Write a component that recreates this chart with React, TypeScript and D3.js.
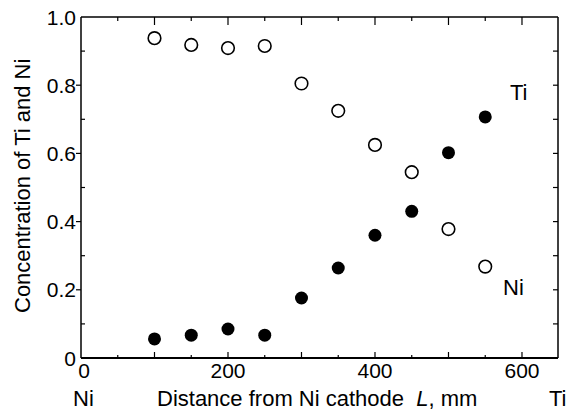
import React from "react";
import * as d3 from "d3";

const distances = [100, 150, 200, 250, 300, 350, 400, 450, 500, 550];
const niValues = [0.938, 0.918, 0.909, 0.915, 0.805, 0.725, 0.625, 0.545, 0.378, 0.268];
const tiValues = [0.056, 0.067, 0.085, 0.067, 0.176, 0.264, 0.36, 0.43, 0.602, 0.707];
const xTickLabels = [0, 200, 400, 600];
const yTickLabels = [0, 0.2, 0.4, 0.6, 0.8, 1.0];

const W = 569;
const H = 415;
const left = 81;
const right = 558;
const top = 17;
const bottom = 358;
const FONT = "Liberation Sans, Arial, sans-serif";

export default function App() {
  const x = d3.scaleLinear().domain([0, 649]).range([left, right]);
  const y = d3.scaleLinear().domain([0, 1]).range([bottom, top]);
  const xMinor = d3.range(50, 650, 50);
  const yMinor = d3.range(1, 10).map((d) => d / 10);

  return (
    <svg
      width={W}
      height={H}
      style={{ position: "absolute", left: 0, top: 0, background: "#fff" }}
      fontFamily={FONT}
    >
      {/* frame */}
      <line x1={left} x2={right} y1={top} y2={top} stroke="#000" strokeWidth={1.5} />
      <line x1={left} x2={left} y1={top} y2={bottom} stroke="#000" strokeWidth={1.5} />
      <line x1={right} x2={right} y1={top} y2={bottom} stroke="#000" strokeWidth={1.5} />
      <line x1={left} x2={right} y1={bottom} y2={bottom} stroke="#000" strokeWidth={2} />

      {/* x ticks top & bottom */}
      {xMinor.map((v) => {
        const major = v % 100 === 0;
        return (
          <g key={"xt" + v}>
            <line x1={x(v)} x2={x(v)} y1={top} y2={top + (major ? 8 : 4)} stroke="#000" strokeWidth={1.2} />
            <line x1={x(v)} x2={x(v)} y1={bottom} y2={bottom - (major ? 6 : 3)} stroke="#000" strokeWidth={1.2} />
          </g>
        );
      })}

      {/* y ticks */}
      {yMinor.map((v) => {
        const major = Math.round(v * 10) % 2 === 0;
        return (
          <g key={"yt" + v}>
            {major ? (
              <line x1={left - 5} x2={left} y1={y(v)} y2={y(v)} stroke="#000" strokeWidth={1.2} />
            ) : (
              <line x1={left} x2={left + 4} y1={y(v)} y2={y(v)} stroke="#000" strokeWidth={1.2} />
            )}
            <line x1={right} x2={right - 5} y1={y(v)} y2={y(v)} stroke="#000" strokeWidth={1.2} />
          </g>
        );
      })}

      {/* y tick labels */}
      {yTickLabels.map((v) => (
        <text
          key={"yl" + v}
          x={left - 5}
          y={y(v)}
          dy="0.36em"
          textAnchor="end"
          fontSize={21}
        >
          {v === 0 ? "0" : v.toFixed(1)}
        </text>
      ))}

      {/* x tick labels */}
      {xTickLabels.map((v) => (
        <text key={"xl" + v} x={x(v) + (v === 0 ? 3 : 0)} y={378} textAnchor="middle" fontSize={21}>
          {v}
        </text>
      ))}

      {/* axis titles */}
      <text x={157} y={406} fontSize={22} xmlSpace="preserve">
        {"Distance from Ni cathode  "}
        <tspan fontStyle="italic">L</tspan>
        {", mm"}
      </text>
      <text x={73} y={406} fontSize={22}>Ni</text>
      <text x={549} y={406} fontSize={22}>Ti</text>
      <text transform="translate(30,313) rotate(-90)" fontSize={22}>
        Concentration of Ti and Ni
      </text>

      {/* series labels */}
      <text x={510} y={100} fontSize={22}>Ti</text>
      <text x={503} y={295} fontSize={22}>Ni</text>

      {/* points */}
      {distances.map((d, i) => (
        <circle key={"ni" + i} cx={x(d)} cy={y(niValues[i])} r={6.3} fill="#fff" stroke="#000" strokeWidth={1.6} />
      ))}
      {distances.map((d, i) => (
        <circle key={"ti" + i} cx={x(d)} cy={y(tiValues[i])} r={6.5} fill="#000" />
      ))}
    </svg>
  );
}
